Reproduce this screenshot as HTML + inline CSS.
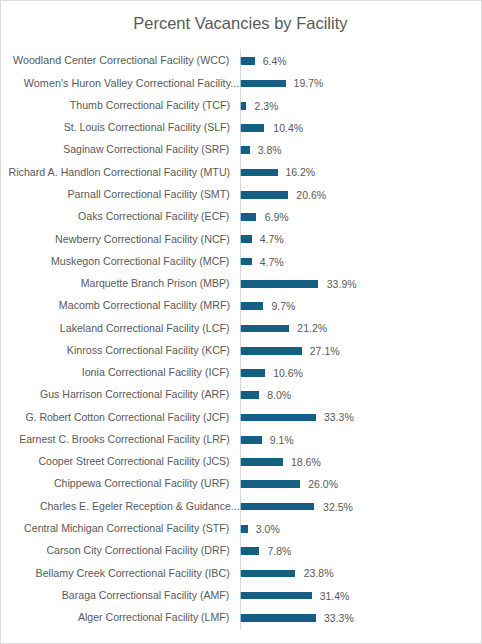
<!DOCTYPE html>
<html><head><meta charset="utf-8"><style>
html,body{margin:0;padding:0;}
body{width:482px;height:644px;position:relative;overflow:hidden;background:#fff;font-family:"Liberation Sans",sans-serif;color:#595959;}
.frame{position:absolute;left:0;top:0;width:480px;height:642px;border:1px solid #dbdbdb;}
.title{position:absolute;left:-0.65px;width:482px;text-align:center;top:15.26px;font-size:16.51px;line-height:16.51px;white-space:nowrap;}
.axis{position:absolute;left:240px;top:49px;width:1px;height:581px;background:#d9d9d9;}
.b{position:absolute;left:240px;height:8.0px;background:linear-gradient(to right,#a3bfcd 0,#a3bfcd 1px,#156082 1px);}
.l,.v{position:absolute;height:20px;line-height:20px;white-space:nowrap;}
.l{font-size:10.7px;text-align:right;transform-origin:100% 50%;}
.v{font-size:10.5px;transform:scaleY(0.97);transform-origin:0 50%;}
</style></head><body>
<div class="frame"></div>
<div class="title">Percent Vacancies by Facility</div>
<div class="axis"></div>
<div class="b" style="top:57px;height:8px;width:15.28px"></div>
<div class="l" style="top:50.35px;right:252.30px;transform:scale(1.0047,1.0)">Woodland Center Correctional Facility (WCC)</div>
<div class="v" style="top:51.00px;left:262.69px">6.4%</div>
<div class="b" style="top:80px;height:7px;width:45.83px"></div>
<div class="l" style="top:72.62px;right:242.40px;transform:scale(1.0151,1.0)">Women&#39;s Huron Valley Correctional Facility...</div>
<div class="v" style="top:73.28px;left:293.62px">19.7%</div>
<div class="b" style="top:102px;height:8px;width:6.15px"></div>
<div class="l" style="top:94.89px;right:252.30px;transform:scale(0.9951,1.0)">Thumb Correctional Facility (TCF)</div>
<div class="v" style="top:95.56px;left:254.44px">2.3%</div>
<div class="b" style="top:124px;height:8px;width:24.24px"></div>
<div class="l" style="top:117.16px;right:252.30px;transform:scale(0.9898,1.0)">St. Louis Correctional Facility (SLF)</div>
<div class="v" style="top:117.84px;left:273.31px">10.4%</div>
<div class="b" style="top:146px;height:8px;width:9.69px"></div>
<div class="l" style="top:139.43px;right:252.30px;transform:scale(0.9809,1.0)">Saginaw Correctional Facility (SRF)</div>
<div class="v" style="top:140.12px;left:257.66px">3.8%</div>
<div class="b" style="top:169px;height:7px;width:37.78px"></div>
<div class="l" style="top:161.70px;right:252.30px;transform:scale(0.9978,1.0)">Richard A. Handlon Correctional Facility (MTU)</div>
<div class="v" style="top:162.40px;left:285.44px">16.2%</div>
<div class="b" style="top:191px;height:8px;width:47.89px"></div>
<div class="l" style="top:183.97px;right:252.30px;transform:scale(0.997,1.0)">Parnall Correctional Facility (SMT)</div>
<div class="v" style="top:184.68px;left:296.37px">20.6%</div>
<div class="b" style="top:213px;height:8px;width:16.44px"></div>
<div class="l" style="top:206.24px;right:252.30px;transform:scale(0.9863,1.0)">Oaks Correctional Facility (ECF)</div>
<div class="v" style="top:206.96px;left:264.73px">6.9%</div>
<div class="b" style="top:235px;height:8px;width:11.86px"></div>
<div class="l" style="top:228.51px;right:252.30px;transform:scale(1.0,1.0)">Newberry Correctional Facility (NCF)</div>
<div class="v" style="top:229.24px;left:259.72px">4.7%</div>
<div class="b" style="top:258px;height:7px;width:12.01px"></div>
<div class="l" style="top:250.78px;right:252.30px;transform:scale(0.9944,1.0)">Muskegon Correctional Facility (MCF)</div>
<div class="v" style="top:251.52px;left:259.72px">4.7%</div>
<div class="b" style="top:280px;height:8px;width:77.84px"></div>
<div class="l" style="top:273.05px;right:252.30px;transform:scale(0.9814,1.0)">Marquette Branch Prison (MBP)</div>
<div class="v" style="top:273.80px;left:326.79px">33.9%</div>
<div class="b" style="top:302px;height:8px;width:23.05px"></div>
<div class="l" style="top:295.32px;right:252.30px;transform:scale(1.0012,1.0)">Macomb Correctional Facility (MRF)</div>
<div class="v" style="top:296.08px;left:271.42px">9.7%</div>
<div class="b" style="top:325px;height:7px;width:48.97px"></div>
<div class="l" style="top:317.59px;right:252.30px;transform:scale(0.9953,1.0)">Lakeland Correctional Facility (LCF)</div>
<div class="v" style="top:318.36px;left:297.34px">21.2%</div>
<div class="b" style="top:347px;height:8px;width:62.02px"></div>
<div class="l" style="top:339.86px;right:252.30px;transform:scale(0.9951,1.0)">Kinross Correctional Facility (KCF)</div>
<div class="v" style="top:340.64px;left:309.79px">27.1%</div>
<div class="b" style="top:369px;height:8px;width:25.06px"></div>
<div class="l" style="top:362.13px;right:252.30px;transform:scale(1.0021,1.0)">Ionia Correctional Facility (ICF)</div>
<div class="v" style="top:362.92px;left:273.17px">10.6%</div>
<div class="b" style="top:391px;height:8px;width:18.98px"></div>
<div class="l" style="top:384.40px;right:252.30px;transform:scale(0.99,1.0)">Gus Harrison Correctional Facility (ARF)</div>
<div class="v" style="top:385.20px;left:267.24px">8.0%</div>
<div class="b" style="top:414px;height:7px;width:76.12px"></div>
<div class="l" style="top:406.67px;right:252.30px;transform:scale(0.9835,1.0)">G. Robert Cotton Correctional Facility (JCF)</div>
<div class="v" style="top:407.48px;left:324.02px">33.3%</div>
<div class="b" style="top:436px;height:8px;width:21.77px"></div>
<div class="l" style="top:428.94px;right:252.30px;transform:scale(0.985,1.0)">Earnest C. Brooks Correctional Facility (LRF)</div>
<div class="v" style="top:429.76px;left:269.75px">9.1%</div>
<div class="b" style="top:458px;height:8px;width:43.04px"></div>
<div class="l" style="top:451.21px;right:252.30px;transform:scale(0.9876,1.0)">Cooper Street Correctional Facility (JCS)</div>
<div class="v" style="top:452.04px;left:291.01px">18.6%</div>
<div class="b" style="top:480px;height:8px;width:59.93px"></div>
<div class="l" style="top:473.48px;right:252.30px;transform:scale(0.9949,1.0)">Chippewa Correctional Facility (URF)</div>
<div class="v" style="top:474.32px;left:308.28px">26.0%</div>
<div class="b" style="top:503px;height:7px;width:74.07px"></div>
<div class="l" style="top:495.75px;right:242.40px;transform:scale(0.9857,1.0)">Charles E. Egeler Reception &amp; Guidance...</div>
<div class="v" style="top:496.60px;left:323.10px">32.5%</div>
<div class="b" style="top:525px;height:8px;width:7.94px"></div>
<div class="l" style="top:518.02px;right:252.30px;transform:scale(0.9898,1.0)">Central Michigan Correctional Facility (STF)</div>
<div class="v" style="top:518.88px;left:255.84px">3.0%</div>
<div class="b" style="top:547px;height:8px;width:18.75px"></div>
<div class="l" style="top:540.29px;right:252.30px;transform:scale(0.9924,1.0)">Carson City Correctional Facility (DRF)</div>
<div class="v" style="top:541.16px;left:267.48px">7.8%</div>
<div class="b" style="top:570px;height:7px;width:54.90px"></div>
<div class="l" style="top:562.56px;right:252.30px;transform:scale(1.0,1.0)">Bellamy Creek Correctional Facility (IBC)</div>
<div class="v" style="top:563.44px;left:303.76px">23.8%</div>
<div class="b" style="top:592px;height:7px;width:71.97px"></div>
<div class="l" style="top:584.83px;right:252.30px;transform:scale(0.9893,1.0)">Baraga Correctionsal Facility (AMF)</div>
<div class="v" style="top:585.72px;left:319.69px">31.4%</div>
<div class="b" style="top:614px;height:8px;width:76.12px"></div>
<div class="l" style="top:607.10px;right:252.30px;transform:scale(0.987,1.0)">Alger Correctional Facility (LMF)</div>
<div class="v" style="top:608.00px;left:324.02px">33.3%</div>
</body></html>
